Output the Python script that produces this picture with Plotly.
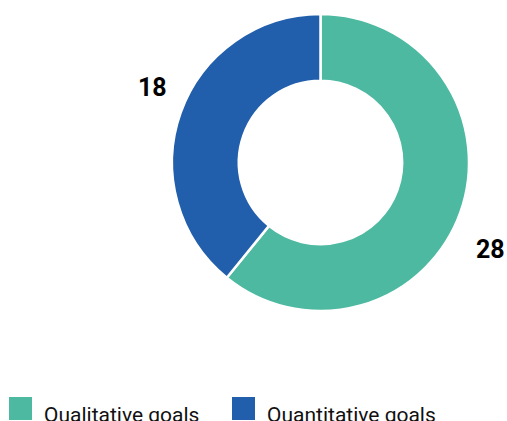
import math
import plotly.graph_objects as go

labels = ["Qualitative goals", "Quantitative goals"]
values = [28, 18]
colors = ["#4cb9a0", "#215eab"]

W, H = 507, 421
# pie domain in pixels (from top-left)
px0, px1, py0, py1 = 172, 469, 14, 311

fig = go.Figure()
fig.add_trace(go.Pie(
    labels=labels, values=values, hole=0.55, sort=False,
    direction="clockwise", rotation=0,
    marker=dict(colors=colors, line=dict(color="white", width=2.5)),
    textinfo="none", hoverinfo="label+value", showlegend=False,
    domain=dict(x=[px0 / W, px1 / W], y=[1 - py1 / H, 1 - py0 / H]),
))

cx = (px0 + px1) / 2
cy = (py0 + py1) / 2
r = (px1 - px0) / 2
total = sum(values)
annotations = []
start = 0.0
for v in values:
    mid = start + v / total * 360 / 2 + 6
    start += v / total * 360
    R = r * 1.26
    x = cx + R * math.sin(math.radians(mid)) + 1
    y = cy - R * math.cos(math.radians(mid)) + 6
    annotations.append(dict(
        x=x / W, y=1 - y / H, xref="paper", yref="paper", text=f"<b>{v}</b>",
        showarrow=False, xanchor="center", yanchor="middle",
        font=dict(family="Roboto", size=25, color="#000000"),
    ))

shapes = []
leg_x = [9, 232]
for lx, lab, col in zip(leg_x, labels, colors):
    shapes.append(dict(type="rect", xref="paper", yref="paper",
                       x0=lx / W, x1=(lx + 23) / W, y0=1 - 420 / H, y1=1 - 397 / H,
                       fillcolor=col, line=dict(width=0)))
    annotations.append(dict(
        x=(lx + 33) / W, y=1 - 415 / H, xref="paper", yref="paper", text=lab,
        showarrow=False, xanchor="left", yanchor="middle",
        font=dict(family="Roboto", size=21, color="#111111"),
    ))

fig.update_layout(
    width=W, height=H, margin=dict(l=0, r=0, t=0, b=0),
    paper_bgcolor="white", plot_bgcolor="white",
    annotations=annotations, shapes=shapes, showlegend=False,
)
fig.write_html("out.html", config={"displayModeBar": False},
               post_script="document.body.style.margin='0';document.body.style.overflow='hidden';")
